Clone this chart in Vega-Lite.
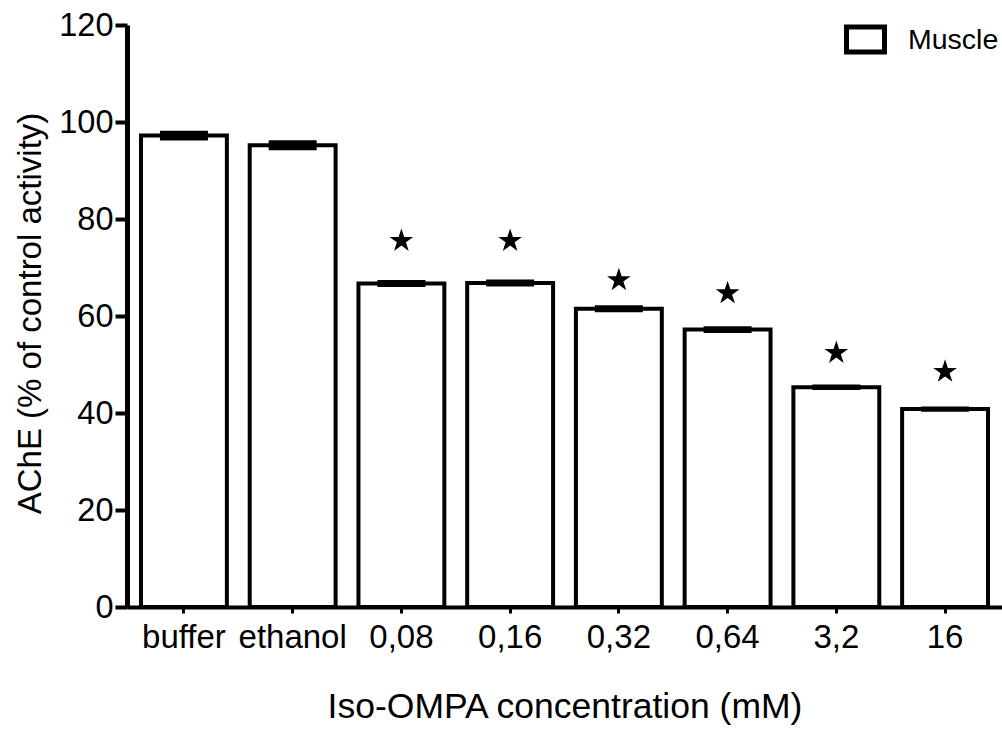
{
  "$schema": "https://vega.github.io/schema/vega-lite/v6.json",
  "width": 875,
  "height": 582,
  "autosize": {"type": "none"},
  "padding": {"left": 127, "top": 25, "right": 0, "bottom": 124},
  "background": "white",
  "config": {
    "view": {"stroke": null},
    "font": "Liberation Sans",
    "axis": {
      "grid": false,
      "domainColor": "black",
      "tickColor": "black",
      "labelColor": "black",
      "titleColor": "black",
      "labelFont": "Liberation Sans",
      "titleFont": "Liberation Sans",
      "titleFontWeight": "normal"
    },
    "legend": {"labelFont": "Liberation Sans"}
  },
  "data": {
    "values": [
      {"group": "buffer", "mean": 97.2, "lo": 96.6, "hi": 97.8, "tissue": "Muscle"},
      {"group": "ethanol", "mean": 95.2, "lo": 94.6, "hi": 95.8, "tissue": "Muscle"},
      {"group": "0,08", "mean": 66.7, "lo": 66.4, "hi": 67.0, "sig": 75.5, "tissue": "Muscle"},
      {"group": "0,16", "mean": 66.8, "lo": 66.5, "hi": 67.1, "sig": 75.5, "tissue": "Muscle"},
      {"group": "0,32", "mean": 61.5, "lo": 61.2, "hi": 61.8, "sig": 67.4, "tissue": "Muscle"},
      {"group": "0,64", "mean": 57.2, "lo": 56.9, "hi": 57.5, "sig": 64.7, "tissue": "Muscle"},
      {"group": "3,2", "mean": 45.3, "lo": 45.15, "hi": 45.45, "sig": 52.4, "tissue": "Muscle"},
      {"group": "16", "mean": 40.8, "lo": 40.65, "hi": 40.95, "sig": 48.5, "tissue": "Muscle"}
    ]
  },
  "layer": [
    {
      "mark": {"type": "bar", "stroke": "black", "strokeWidth": 4},
      "encoding": {
        "x": {
          "field": "group",
          "type": "nominal",
          "sort": null,
          "scale": {"paddingInner": 0.21, "paddingOuter": 0.1286},
          "axis": {
            "orient": "bottom",
            "title": "Iso-OMPA concentration (mM)",
            "labelAngle": 0,
            "labelFontSize": 33,
            "titleFontSize": 35.5,
            "domainWidth": 4,
            "tickSize": 6,
            "tickWidth": 3,
            "labelPadding": 8,
            "titleBaseline": "alphabetic",
            "titleY": 110
          }
        },
        "y": {
          "field": "mean",
          "type": "quantitative",
          "scale": {"domain": [0, 120], "nice": false},
          "axis": {
            "title": "AChE (% of control activity)",
            "values": [0, 20, 40, 60, 80, 100, 120],
            "labelFontSize": 32.5,
            "titleFontSize": 33,
            "domainWidth": 5,
            "tickSize": 12,
            "tickWidth": 4,
            "labelPadding": 2,
            "titleAngle": -90,
            "titleAlign": "center",
            "titleBaseline": "alphabetic",
            "titleX": -87,
            "titleY": 288
          }
        },
        "color": {
          "field": "tissue",
          "type": "nominal",
          "scale": {"range": ["white"]},
          "legend": {
            "title": null,
            "orient": "none",
            "legendX": 717,
            "legendY": -7,
            "padding": 0,
            "symbolType": "M-1,-0.66L1,-0.66L1,0.66L-1,0.66Z",
            "symbolSize": 1444,
            "symbolStrokeColor": "black",
            "symbolStrokeWidth": 5,
            "symbolFillColor": "white",
            "labelFontSize": 28.5,
            "labelColor": "black",
            "labelOffset": 21
          }
        }
      }
    },
    {
      "mark": {"type": "tick", "color": "black", "thickness": 4, "size": 48, "opacity": 1},
      "encoding": {
        "x": {"field": "group", "type": "nominal", "sort": null},
        "y": {"field": "lo", "type": "quantitative"}
      }
    },
    {
      "mark": {"type": "tick", "color": "black", "thickness": 4, "size": 48, "opacity": 1},
      "encoding": {
        "x": {"field": "group", "type": "nominal", "sort": null},
        "y": {"field": "hi", "type": "quantitative"}
      }
    },
    {
      "transform": [{"filter": "isValid(datum.sig)"}],
      "mark": {
        "type": "point",
        "shape": "M0,-1L0.225,-0.309L0.951,-0.309L0.363,0.118L0.588,0.809L0,0.382L-0.588,0.809L-0.363,0.118L-0.951,-0.309L-0.225,-0.309Z",
        "filled": true,
        "color": "black",
        "size": 620,
        "opacity": 1
      },
      "encoding": {
        "x": {"field": "group", "type": "nominal", "sort": null},
        "y": {"field": "sig", "type": "quantitative"}
      }
    }
  ]
}
